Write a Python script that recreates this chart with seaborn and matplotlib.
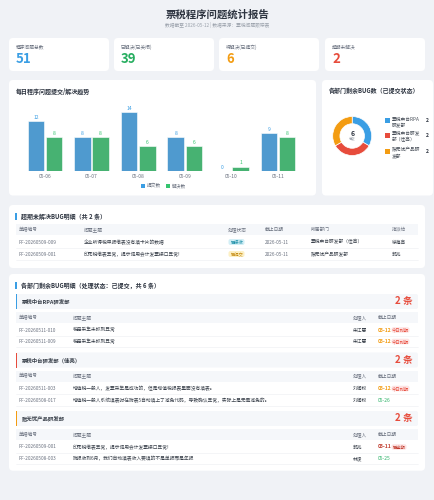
import matplotlib
matplotlib.use("Agg")
import matplotlib.pyplot as plt
from matplotlib.patches import FancyBboxPatch, Rectangle
import seaborn as sns
import pandas as pd

# ---------------- data ----------------
report_title = "票税程序问题统计报告"
report_sub = "数据截至 2026-05-12 | 数据来源：票税问题跟踪表"

kpi_labels = ["程序问题总数", "已解决(已关闭)", "待解决(已提交)", "超期未解决"]
kpi_values = ["51", "39", "6", "2"]

dates = ["05-06", "05-07", "05-08", "05-09", "05-10", "05-11"]
submitted = [12, 8, 14, 8, 0, 9]
resolved = [8, 8, 6, 6, 1, 8]
series_names = ["提交数", "解决数"]

dept_names = ["票税中台RPA\n研发部", "票税中台研发\n部（佳亮）", "账无忧产品研\n发部"]
dept_counts = [2, 2, 2]
dept_total = 6

overdue_headers = ["单据编号", "问题主题", "处理状态", "截止日期", "所属部门", "指派给"]
overdue_ids = ["PF-20260509-009", "PF-20260509-001"]
overdue_topics = ["企业所得税申报缴表没有填卡片的数据", "印花税缴表异常，提示调用会计发票接口异常!"]
overdue_status = ["已接收", "已提交"]
overdue_dates = ["2026-05-11", "2026-05-11"]
overdue_depts = ["票税中台研发部（佳亮）", "账无忧产品研发部"]
overdue_owner = ["徐海亮", "郭兆"]

group_titles = ["票税中台RPA研发部", "票税中台研发部（佳亮）", "账无忧产品研发部"]
group_counts = ["2 条", "2 条", "2 条"]
group_headers = ["单据编号", "问题主题", "处理人", "截止日期"]
group_ids = [["PF-20260511-010", "PF-20260511-009"],
             ["PF-20260511-003", "PF-20260508-017"],
             ["PF-20260509-001", "PF-20260508-003"]]
group_topics = [["税局采集未抓到异常", "税局采集未抓到异常"],
                ["增值税一般人，发票采集是成功的，但是增值税报表里面没有填表。",
                 "增值税一般人系统填表时在附表5自动填上了减免代码，导致确认异常，实际上是无需减免的。"],
                ["印花税缴表异常，提示调用会计发票接口异常!",
                 "附报收到6月，我们自动填表收入要填的不是单报而是年报"]]
group_owner = [["朱江慧", "朱江慧"], ["刘润权", "刘润权"], ["郭兆", "林凌"]]
group_dates = [["05-12", "05-12"], ["05-12", "05-26"], ["05-11", "05-25"]]
group_tags = [["今日到期", "今日到期"], ["今日到期", ""], ["已逾期", ""]]

# ---------------- style ----------------
sns.set_theme(style="white")
plt.rcParams["font.family"] = ["Noto Sans CJK SC", "DejaVu Sans"]

W, H = 435, 500
BLUE, GREEN, ORANGE, RED = "#3a9ee4", "#35c46f", "#f39c12", "#e74c3c"
DARK, GRAY, LIGHT = "#2d3440", "#6b7280", "#9aa1ab"

fig = plt.figure(figsize=(W / 100, H / 100), dpi=100)
fig.patch.set_facecolor("#f0f2f6")
bg = fig.add_axes([0, 0, 1, 1])
bg.set_xlim(0, W)
bg.set_ylim(H, 0)
bg.axis("off")


def px_axes(x0, y0, x1, y1):
    return fig.add_axes([x0 / W, 1 - y1 / H, (x1 - x0) / W, (y1 - y0) / H])


def card(x0, y0, x1, y1, fc="white", r=4):
    bg.add_patch(FancyBboxPatch((x0, y0), x1 - x0, y1 - y0,
                                boxstyle=f"round,pad=0,rounding_size={r}",
                                fc=fc, ec="none", zorder=1))


def T(x, y, s, size=3.6, color=DARK, weight="normal", ha="left", va="center"):
    bg.text(x, y, s, fontsize=size, color=color, fontweight=weight, ha=ha, va=va, zorder=5)


def badge(x, y, s, fc, tc, w=16, h=6):
    bg.add_patch(FancyBboxPatch((x, y - h / 2), w, h, boxstyle="round,pad=0,rounding_size=2",
                                fc=fc, ec="none", zorder=4))
    T(x + w / 2, y, s, size=3.1, color=tc, ha="center")


# header
T(W / 2, 15, report_title, size=7.5, weight="bold", ha="center")
T(W / 2, 24.5, report_sub, size=3.4, color=LIGHT, ha="center")

# KPI cards
kpi_x = [(9, 109), (114, 214), (219, 319), (325, 425)]
kpi_colors = [BLUE, "#27ae60", ORANGE, RED]
for (x0, x1), lab, val, c in zip(kpi_x, kpi_labels, kpi_values, kpi_colors):
    card(x0, 38, x1, 71)
    T(x0 + 7, 47, lab, size=3.4, color=GRAY)
    T(x0 + 7, 59, val, size=9.5, color=c, weight="bold")

# chart cards
card(9, 80, 316, 195.5)
card(322, 80, 433, 195.5)
T(16, 91, "每日程序问题提交/解决趋势", size=4.3, weight="bold")
T(329, 91, "各部门剩余BUG数（已提交状态）", size=4.3, weight="bold")

# bar chart
df = pd.DataFrame({
    "date": dates * 2,
    "value": submitted + resolved,
    "series": [series_names[0]] * len(dates) + [series_names[1]] * len(dates),
})
ax = px_axes(21.7, 104, 301.3, 170.7)
ax.patch.set_alpha(0)
sns.barplot(data=df, x="date", y="value", hue="series", hue_order=series_names,
            palette=[BLUE, GREEN], width=0.78, gap=0.08, ax=ax, legend=False,
            edgecolor="white", linewidth=0.4)
for cont, c in zip(ax.containers, [BLUE, GREEN]):
    ax.bar_label(cont, labels=[str(int(v)) for v in cont.datavalues],
                 fontsize=3.6, color=c, padding=0.8)
ax.set_ylim(0, 16)
ax.set_xlim(-0.5, len(dates) - 0.5)
ax.set_xlabel("")
ax.set_ylabel("")
ax.set_yticks([])
ax.tick_params(axis="x", length=0, pad=2.5, labelsize=3.6, labelcolor=GRAY)
for s in ax.spines.values():
    s.set_visible(False)

# bar legend
bg.add_patch(Rectangle((141, 184.3), 4, 4, fc=BLUE, ec="none", zorder=4))
T(147, 186.3, series_names[0], size=3.4, color=GRAY)
bg.add_patch(Rectangle((166, 184.3), 4, 4, fc=GREEN, ec="none", zorder=4))
T(172, 186.3, series_names[1], size=3.4, color=GRAY)

# donut
dax = px_axes(352.2 - 19.5, 136 - 19.5, 352.2 + 19.5, 136 + 19.5)
dax.pie(dept_counts, colors=[BLUE, RED, ORANGE], startangle=90, counterclock=False,
        wedgeprops=dict(width=0.37, edgecolor="white", linewidth=0.5))
dax.set_aspect("equal")
dax.set_xlim(-1, 1)
dax.set_ylim(-1, 1)
T(352.2, 133, str(dept_total), size=5, weight="bold", ha="center")
T(352.2, 139.5, "总数", size=2.4, color=LIGHT, ha="center")

for i, (name, cnt, c) in enumerate(zip(dept_names, dept_counts, [BLUE, RED, ORANGE])):
    yy = [120.7, 135.5, 151.7][i]
    bg.add_patch(Rectangle((385.5, yy - 2.3), 4.5, 4.5, fc=c, ec="none", zorder=4))
    l1, l2 = name.split("\n")
    T(392, yy - 1.5, l1, size=3.4, color="#444b55")
    T(392, yy + 4.5, l2, size=3.4, color="#444b55")
    T(427, yy, str(cnt), size=3.6, color=DARK, weight="bold", ha="center")

# overdue card
card(9, 205, 425, 268)
bg.add_patch(Rectangle((15.5, 212.5), 1.3, 7.5, fc=BLUE, ec="none", zorder=4))
T(21, 216.3, "超期未解决BUG明细（共 2 条）", size=4.3, weight="bold")
bg.add_patch(Rectangle((16, 224), 402, 10.5, fc="#f5f7fa", ec="none", zorder=2))
ocols = [19, 84, 228, 265, 311, 392]
for xh, h in zip(ocols, overdue_headers):
    T(xh, 229.3, h, size=3.4, color=GRAY)
for i in range(2):
    yy = [242, 254][i]
    T(ocols[0], yy, overdue_ids[i], size=3.4, color=GRAY)
    T(ocols[1], yy, overdue_topics[i], size=3.4, color="#3a414b")
    if i == 0:
        badge(228.5, yy, overdue_status[i], "#d3eff6", "#1d8fa8")
    else:
        badge(228.5, yy, overdue_status[i], "#fdf0c4", "#c48a12")
    T(ocols[3], yy, overdue_dates[i], size=3.4, color=GRAY)
    T(ocols[4], yy, overdue_depts[i], size=3.4, color="#3a414b")
    T(ocols[5], yy, overdue_owner[i], size=3.4, color="#3a414b")
    bg.plot([16, 418], [yy + 5.8, yy + 5.8], color="#eceef2", lw=0.4, zorder=3)

# dept detail card
card(9, 274, 425, 470.7)
bg.add_patch(Rectangle((15.5, 281.5), 1.3, 7.5, fc=BLUE, ec="none", zorder=4))
T(21, 285.3, "各部门剩余BUG明细（处理状态：已提交，共 6 条）", size=4.3, weight="bold")

gcols = [19, 73, 353, 378]
group_colors = [BLUE, RED, ORANGE]
for g in range(3):
    off = g * 58.5
    hy0 = 294 + off
    bg.add_patch(FancyBboxPatch((16, hy0), 402, 15, boxstyle="round,pad=0,rounding_size=2",
                                fc="#f5f7fa", ec="none", zorder=2))
    bg.add_patch(Rectangle((16, hy0), 1.3, 15, fc=group_colors[g], ec="none", zorder=3))
    T(22, hy0 + 7.5, group_titles[g], size=3.9, weight="bold", color="#3a414b")
    T(413, hy0 + 7.3, group_counts[g], size=7, weight="bold", color=RED, ha="right")
    th0 = 312 + off
    bg.add_patch(Rectangle((16, th0), 402, 11, fc="#f5f7fa", ec="none", zorder=2))
    for xh, h in zip(gcols, group_headers):
        T(xh, th0 + 5.6, h, size=3.4, color=GRAY)
    for r in range(2):
        yy = 330 + off + r * 11.5
        T(gcols[0], yy, group_ids[g][r], size=3.4, color=GRAY)
        T(gcols[1], yy, group_topics[g][r], size=3.4, color="#3a414b")
        T(gcols[2], yy, group_owner[g][r], size=3.4, color="#3a414b")
        tag = group_tags[g][r]
        if tag == "今日到期":
            T(gcols[3], yy, group_dates[g][r], size=3.6, color=ORANGE, weight="bold")
            badge(391.5, yy, tag, "#fde3e3", RED, w=18, h=5.5)
        elif tag == "已逾期":
            T(gcols[3], yy, group_dates[g][r], size=3.6, color="#c0392b", weight="bold")
            badge(391.5, yy, tag, "#fde3e3", "#c0392b", w=15, h=5.5)
        else:
            T(gcols[3], yy, group_dates[g][r], size=3.6, color="#2fb36a")
        bg.plot([16, 418], [yy + 5.6, yy + 5.6], color="#eceef2", lw=0.4, zorder=3)

fig.savefig("out.png", dpi=100, facecolor=fig.get_facecolor())
